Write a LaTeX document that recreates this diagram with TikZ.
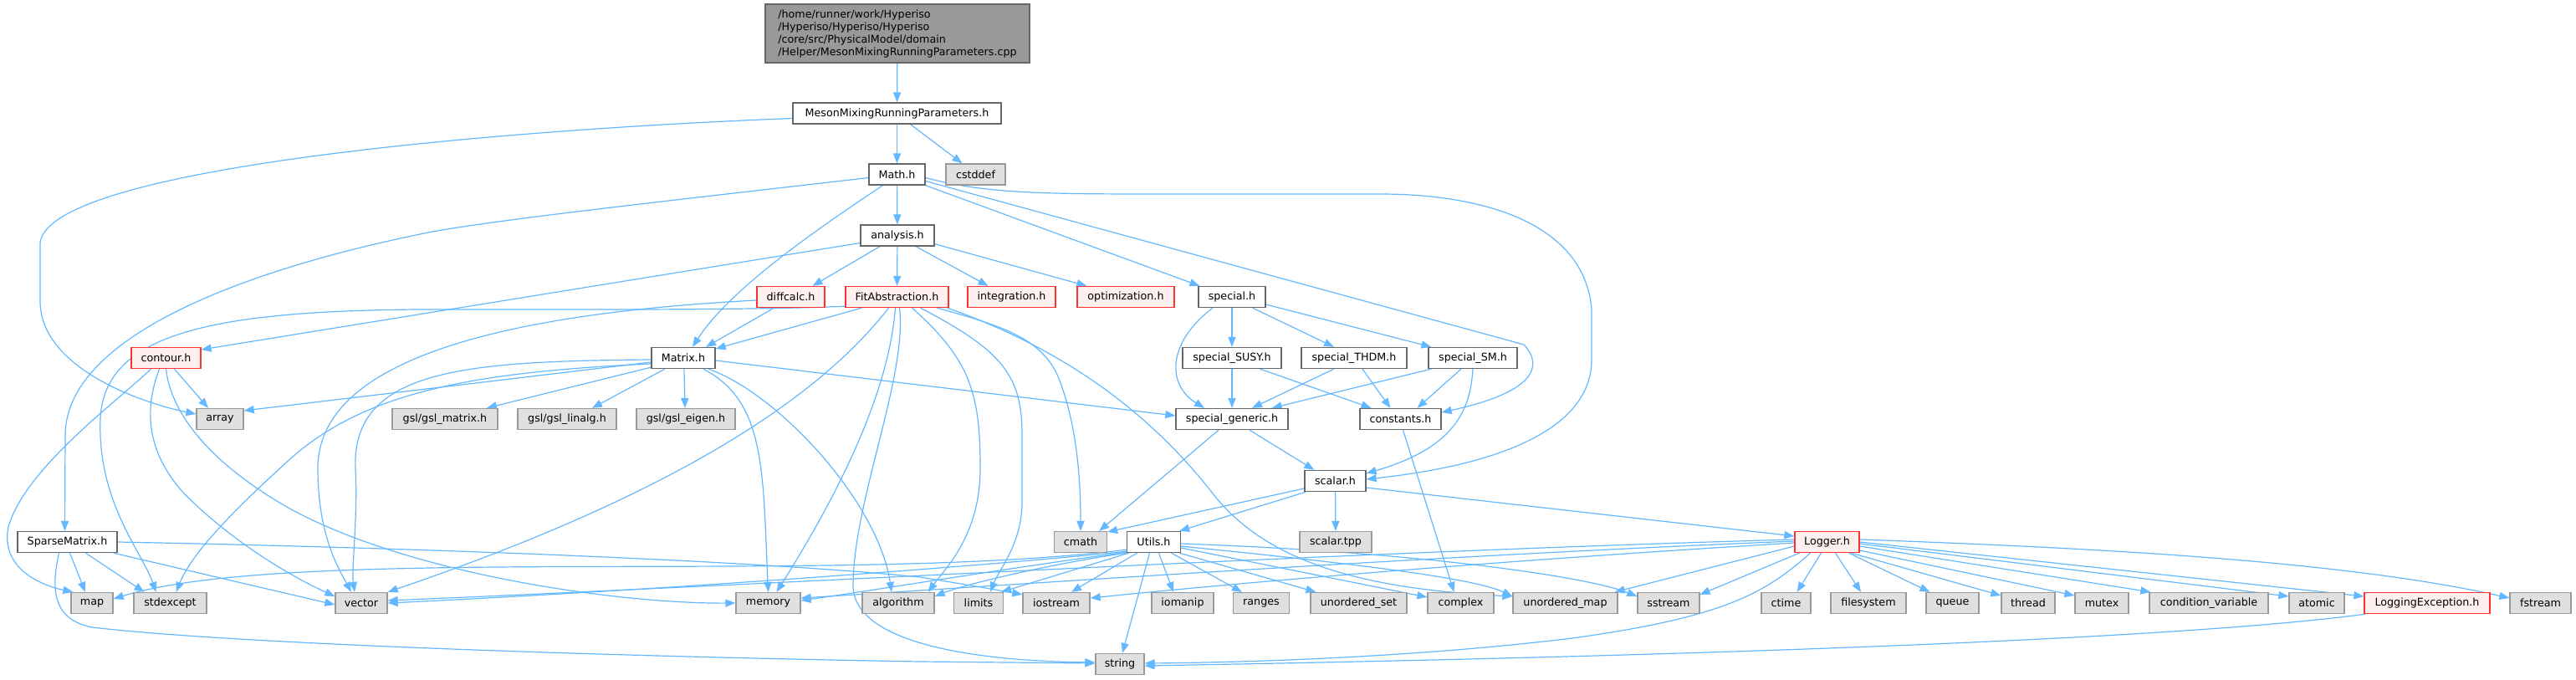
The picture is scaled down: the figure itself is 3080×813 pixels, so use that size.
\documentclass[tikz,border=0pt]{standalone}
\usepackage{fontspec}
\usetikzlibrary{arrows.meta,calc}
\newfontfamily\dvs{DejaVu Sans}
\definecolor{edgec}{HTML}{63B8FF}
\definecolor{nborder}{HTML}{666666}
\definecolor{lborder}{HTML}{999999}
\definecolor{lfill}{HTML}{E0E0E0}
\definecolor{tfill}{HTML}{FFF0F0}
\definecolor{tborder}{HTML}{FF3030}
\definecolor{rfill}{HTML}{999999}
\pgfdeclarelayer{bg}
\pgfsetlayers{bg,main}
\begin{document}
\begin{tikzpicture}[x=0.5pt,y=-0.5pt,
 nbox/.style={line width=0.65pt, inner sep=0pt, minimum height=12.5pt, font=\dvs\fontsize{6.35}{7.5}\selectfont},
 norm/.style={nbox, draw=nborder, fill=white},
 leaf/.style={nbox, draw=lborder, fill=lfill},
 trunc/.style={nbox, draw=tborder, fill=tfill},
 rootn/.style={nbox, draw=nborder, fill=rfill, align=left},
 edg/.style={draw=edgec, line width=0.6pt, -{Triangle[length=6pt,width=4.6pt]}},
]
\path[use as bounding box] (0,0) rectangle (3080,813);
% nodes
\node[rootn, minimum width=158pt, minimum height=35pt] (root) at (1073,40) {/home/runner/work/Hyperiso\\/Hyperiso/Hyperiso/Hyperiso\\/core/src/PhysicalModel/domain\\/Helper/MesonMixingRunningParameters.cpp};
\node[norm, minimum width=124.5pt] (mmrp) at (1072.5,135.5) {MesonMixingRunningParameters.h};
\node[norm, minimum width=33.5pt] (math) at (1072.5,208.5) {Math.h};
\node[leaf, minimum width=35.5pt] (cstddef) at (1166.5,208.5) {cstddef};
\node[norm, minimum width=44pt] (analysis) at (1073,281.5) {analysis.h};
\node[trunc, minimum width=40.5pt] (diffcalc) at (945.5,355) {diffcalc.h};
\node[trunc, minimum width=61.5pt] (fitab) at (1072.5,355) {FitAbstraction.h};
\node[trunc, minimum width=52.5pt] (integ) at (1209.5,355) {integration.h};
\node[trunc, minimum width=58pt] (optim) at (1346,355) {optimization.h};
\node[norm, minimum width=40pt] (special) at (1473,355) {special.h};
\node[trunc, minimum width=41.5pt] (contour) at (198.5,428) {contour.h};
\node[norm, minimum width=38pt] (matrix) at (817,428) {Matrix.h};
\node[norm, minimum width=59pt] (susy) at (1473,428) {special\_SUSY.h};
\node[norm, minimum width=63pt] (thdm) at (1619,428) {special\_THDM.h};
\node[norm, minimum width=53pt] (sm) at (1761,428) {special\_SM.h};
\node[leaf, minimum width=28pt] (array) at (263,501) {array};
\node[leaf, minimum width=63pt] (gslm) at (532,501) {gsl/gsl\_matrix.h};
\node[leaf, minimum width=59pt] (gsll) at (678,501) {gsl/gsl\_linalg.h};
\node[leaf, minimum width=59pt] (gsle) at (820,501) {gsl/gsl\_eigen.h};
\node[norm, minimum width=67pt] (sgen) at (1473,501) {special\_generic.h};
\node[norm, minimum width=48.5pt] (consts) at (1674.5,501) {constants.h};
\node[norm, minimum width=36.5pt] (scalar) at (1596.5,575) {scalar.h};
\node[norm, minimum width=59.5pt] (sparse) at (80.5,648) {SparseMatrix.h};
\node[leaf, minimum width=31.5pt] (cmath) at (1292,648) {cmath};
\node[norm, minimum width=32pt] (utils) at (1379.5,648) {Utils.h};
\node[leaf, minimum width=43pt] (stpp) at (1597,648) {scalar.tpp};
\node[trunc, minimum width=38.5pt] (logger) at (2184.5,648) {Logger.h};
\node[leaf, minimum width=25pt] (map) at (110,721) {map};
\node[leaf, minimum width=43.5pt] (stdexcept) at (203.5,721) {stdexcept};
\node[leaf, minimum width=31pt] (vector) at (432,721) {vector};
\node[leaf, minimum width=38.5pt] (memory) at (918.5,721) {memory};
\node[leaf, minimum width=43pt] (algorithm) at (1074,721) {algorithm};
\node[leaf, minimum width=29.5pt] (limits) at (1170,721) {limits};
\node[leaf, minimum width=40pt] (iostream) at (1263,721) {iostream};
\node[leaf, minimum width=37pt] (iomanip) at (1414,721) {iomanip};
\node[leaf, minimum width=33.5pt] (ranges) at (1508,721) {ranges};
\node[leaf, minimum width=57.5pt] (uset) at (1624.5,721) {unordered\_set};
\node[leaf, minimum width=39.5pt] (complex) at (1746.5,721) {complex};
\node[leaf, minimum width=62.5pt] (umap) at (1871.5,721) {unordered\_map};
\node[leaf, minimum width=37pt] (sstream) at (1995,721) {sstream};
\node[leaf, minimum width=29.5pt] (ctime) at (2135.5,721) {ctime};
\node[leaf, minimum width=45pt] (filesystem) at (2234,721) {filesystem};
\node[leaf, minimum width=31.5pt] (queue) at (2334.5,721) {queue};
\node[leaf, minimum width=32pt] (thread) at (2425,721) {thread};
\node[leaf, minimum width=32pt] (mutex) at (2513,721) {mutex};
\node[leaf, minimum width=71pt] (condvar) at (2641,721) {condition\_variable};
\node[leaf, minimum width=33pt] (atomic) at (2770,721) {atomic};
\node[trunc, minimum width=75pt] (logexc) at (2902,721) {LoggingException.h};
\node[leaf, minimum width=36.5pt] (fstream) at (3037.5,721) {fstream};
\node[leaf, minimum width=29pt] (string) at (1339,794) {string};
\begin{pgfonlayer}{bg}
% root / mmrp
\draw[edg] (root) -- (mmrp);
\draw[edg] (mmrp) -- (math);
\draw[edg] ($(mmrp.south)+(16,0)$) -- ($(cstddef.north)+(-16,0)$);
\draw[edg] ($(mmrp.west)+(0,6)$) .. controls (600,155) and (60,200) .. (48,290) -- (48,360) .. controls (48,440) and (170,482) .. ($(array.west)+(0,-6)$);
% math
\draw[edg] ($(math.west)+(0,4)$) .. controls (800,240) and (600,262) .. (517,277) .. controls (300,320) and (79,400) .. (78,520) -- ($(sparse.north)+(-3,0)$);
\draw[edg] (math) -- (analysis);
\draw[edg] ($(math.south)+(-17,0)$) .. controls (960,285) and (870,350) .. ($(matrix.north)+(11,0)$);
\draw[edg] (math.south east) -- ($(special.north west)+(2,0)$);
\draw[edg] ($(math.east)+(0,8)$) -- (1822,412) .. controls (1848,440) and (1830,470) .. ($(consts.east)+(0,-8)$);
\draw[edg] ($(math.east)+(0,4)$) .. controls (1180,232) and (1250,232) .. (1400,232) -- (1650,232) .. controls (1780,232) and (1895,270) .. (1903,370) -- (1903,430) .. controls (1903,510) and (1800,555) .. ($(scalar.east)+(0,-2)$);
% analysis
\draw[edg] ($(analysis.west)+(0,9)$) -- ($(contour.east)+(0,-10)$);
\draw[edg] ($(analysis.south)+(-21,0)$) -- ($(diffcalc.north)+(26,0)$);
\draw[edg] (analysis) -- (fitab);
\draw[edg] ($(analysis.south)+(22,0)$) -- ($(integ.north)+(-28,0)$);
\draw[edg] ($(analysis.south east)+(0,-3)$) -- ($(optim.north west)+(12,0)$);
% diffcalc
\draw[edg] ($(diffcalc.south)+(-20,0)$) -- ($(matrix.north)+(27,0)$);
\draw[edg] ($(diffcalc.west)+(0,4)$) .. controls (600,375) and (380,430) .. (380,560) .. controls (380,640) and (405,680) .. ($(vector.north)+(-12,0)$);
% FitAbstraction
\draw[edg] ($(fitab.south west)+(0,-2)$) .. controls (900,371) and (700,370) .. (500,370) .. controls (250,372) and (125,400) .. (120,500) .. controls (116,600) and (170,660) .. ($(stdexcept.north)+(-17,0)$);
\draw[edg] ($(fitab.south west)+(20,0)$) -- ($(matrix.east)+(0,-11)$);
\draw[edg] ($(fitab.south)+(-10,0)$) .. controls (960,500) and (750,610) .. (vector.north east);
\draw[edg] ($(fitab.south)+(-2,0)$) .. controls (1062,480) and (990,610) .. ($(memory.north)+(10,0)$);
\draw[edg] ($(fitab.south)+(3,0)$) .. controls (1085,450) and (1020,600) .. (1020,700) .. controls (1020,765) and (1150,790) .. ($(string.west)+(0,-2)$);
\draw[edg] ($(fitab.south)+(18,0)$) .. controls (1160,430) and (1172,470) .. (1172,560) .. controls (1172,640) and (1130,680) .. ($(algorithm.north east)+(-8,0)$);
\draw[edg] ($(fitab.south)+(28,0)$) .. controls (1200,420) and (1222,450) .. (1222,520) -- (1222,600) .. controls (1222,650) and (1195,680) .. ($(limits.north)+(14,0)$);
\draw[edg] ($(fitab.south)+(48,0)$) .. controls (1200,390) and (1245,405) .. (1265,450) .. controls (1285,500) and (1292,560) .. (cmath.north);
\draw[edg] ($(fitab.south east)+(-2,0)$) .. controls (1280,420) and (1380,500) .. (1450,590) .. controls (1520,680) and (1650,705) .. ($(umap.west)+(0,-8)$);
% special
\draw[edg] ($(special.south)+(-23,0)$) .. controls (1395,410) and (1395,460) .. ($(sgen.north)+(-33,0)$);
\draw[edg] (special) -- (susy);
\draw[edg] ($(special.south east)+(-16,0)$) -- ($(thdm.north)+(-24,0)$);
\draw[edg] ($(special.east)+(0,9)$) -- ($(sm.north west)+(4,0)$);
\draw[edg] (susy) -- (sgen);
\draw[edg] ($(susy.south east)+(-26,0)$) -- ($(consts.north)+(-35,0)$);
\draw[edg] ($(thdm.south)+(-24,0)$) -- ($(sgen.north)+(24,0)$);
\draw[edg] ($(thdm.south)+(10,0)$) -- ($(consts.north)+(-12,0)$);
\draw[edg] ($(sm.south west)+(4,0)$) -- ($(sgen.north east)+(-20,0)$);
\draw[edg] ($(sm.south)+(-14,0)$) -- ($(consts.north)+(20,0)$);
\draw[edg] (sm.south) .. controls (1758,490) and (1740,535) .. ($(scalar.east)+(0,-9)$);
\draw[edg] ($(consts.south)+(3,0)$) -- ($(complex.north)+(-8,0)$);
% special_generic
\draw[edg] ($(sgen.south)+(-16,0)$) -- ($(cmath.north east)+(-10,0)$);
\draw[edg] ($(sgen.south)+(21,0)$) -- ($(scalar.north west)+(12,0)$);
% scalar
\draw[edg] ($(scalar.west)+(0,9)$) -- ($(cmath.east)+(0,-12)$);
\draw[edg] ($(scalar.south west)+(2,0)$) -- ($(utils.north east)+(-2,0)$);
\draw[edg] (scalar) -- (stpp);
\draw[edg] ($(scalar.east)+(0,8)$) -- ($(logger.west)+(0,-7)$);
% Matrix
\draw[edg] ($(matrix.west)+(0,5)$) -- ($(array.east)+(0,-10)$);
\draw[edg] ($(matrix.west)+(0,2)$) .. controls (560,432) and (420,440) .. (425,560) .. controls (428,620) and (420,680) .. ($(vector.north)+(-8,0)$);
\draw[edg] ($(matrix.west)+(0,7)$) .. controls (560,445) and (430,470) .. (340,555) .. controls (280,610) and (230,660) .. ($(stdexcept.north)+(7,0)$);
\draw[edg] ($(matrix.south west)+(0,-2)$) -- ($(gslm.north)+(50,0)$);
\draw[edg] ($(matrix.south)+(-22,0)$) -- ($(gsll.north)+(30,0)$);
\draw[edg] ($(matrix.south)+(1,0)$) -- ($(gsle.north)+(-1,0)$);
\draw[edg] ($(matrix.south)+(24,0)$) .. controls (915,480) and (912,560) .. (memory.north);
\draw[edg] ($(matrix.south)+(30,0)$) .. controls (930,470) and (1050,600) .. ($(algorithm.north)+(-8,0)$);
\draw[edg] ($(matrix.east)+(0,3)$) -- ($(sgen.west)+(0,-4)$);
% contour
\draw[edg] ($(contour.south)+(10,0)$) -- ($(array.north)+(-14,0)$);
\draw[edg] ($(contour.south)+(-18,0)$) .. controls (140,480) and (30,560) .. (10,630) .. controls (0,680) and (50,700) .. ($(map.north west)+(3,0)$);
\draw[edg] ($(contour.south)+(-8,0)$) .. controls (172,490) and (175,540) .. (220,590) .. controls (280,650) and (350,690) .. ($(vector.west)+(0,-8)$);
\draw[edg] (contour.south) .. controls (205,500) and (260,560) .. (350,610) .. controls (500,690) and (750,722) .. (memory.west);
% SparseMatrix
\draw[edg] ($(sparse.south)+(-10,0)$) .. controls (62,700) and (60,740) .. (110,750) .. controls (300,772) and (800,786) .. (1100,791) -- ($(string.west)+(0,-1)$);
\draw[edg] ($(sparse.south)+(3,0)$) -- ($(map.north)+(-8,0)$);
\draw[edg] ($(sparse.south)+(22,0)$) -- ($(stdexcept.north)+(-31,0)$);
\draw[edg] ($(sparse.south east)+(-5,0)$) -- ($(vector.west)+(0,2)$);
\draw[edg] (sparse.east) .. controls (500,655) and (900,670) .. (1100,690) .. controls (1150,698) and (1190,705) .. ($(iostream.north west)+(0,3)$);
% Utils
\draw[edg] ($(utils.south west)+(0,-4)$) .. controls (1000,700) and (350,650) .. ($(map.east)+(0,-5)$);
\draw[edg] ($(utils.south west)+(0,-2)$) .. controls (1200,675) and (800,705) .. (vector.east);
\draw[edg] ($(utils.south west)+(0,-1)$) .. controls (1200,680) and (1050,705) .. ($(memory.east)+(0,-3)$);
\draw[edg] (utils.south west) .. controls (1250,675) and (1150,700) .. ($(algorithm.east)+(0,-8)$);
\draw[edg] ($(utils.south west)+(3,0)$) -- ($(limits.north east)+(-3,0)$);
\draw[edg] ($(utils.south)+(-20,0)$) -- ($(iostream.north)+(18,0)$);
\draw[edg] ($(utils.south)+(-5,0)$) -- ($(string.north)+(3,0)$);
\draw[edg] ($(utils.south)+(6,0)$) -- ($(iomanip.north)+(-11,0)$);
\draw[edg] ($(utils.south)+(21,0)$) -- ($(ranges.north)+(-23,0)$);
\draw[edg] ($(utils.south east)+(-2,0)$) -- ($(uset.north west)+(7,0)$);
\draw[edg] ($(utils.east)+(0,7)$) -- ($(complex.west)+(0,-7)$);
\draw[edg] ($(utils.east)+(0,5)$) .. controls (1600,672) and (1760,690) .. ($(umap.west)+(0,-8)$);
\draw[edg] ($(utils.east)+(0,2)$) .. controls (1700,660) and (1900,690) .. ($(sstream.west)+(0,-8)$);
% Logger
\draw[edg] ($(logger.south)+(-7,0)$) -- ($(ctime.north)+(13,0)$);
\draw[edg] ($(logger.south)+(10,0)$) -- ($(filesystem.north)+(-9,0)$);
\draw[edg] ($(logger.south)+(26,0)$) -- ($(queue.north)+(-27,0)$);
\draw[edg] ($(logger.south east)+(-10,0)$) -- ($(thread.west)+(0,-9)$);
\draw[edg] ($(logger.east)+(0,10)$) -- ($(mutex.west)+(0,-9)$);
\draw[edg] ($(logger.east)+(0,5)$) -- ($(condvar.north west)+(2,0)$);
\draw[edg] ($(logger.east)+(0,2)$) -- ($(atomic.west)+(0,-8)$);
\draw[edg] (logger.east) -- ($(logexc.west)+(0,-8)$);
\draw[edg] ($(logger.east)+(0,-3)$) .. controls (2500,655) and (2800,670) .. ($(fstream.west)+(0,-6)$);
\draw[edg] ($(logger.south west)+(6,0)$) -- ($(sstream.north east)+(0,3)$);
\draw[edg] ($(logger.west)+(0,5)$) -- ($(umap.north east)+(-4,0)$);
\draw[edg] ($(logger.west)+(0,1)$) .. controls (1800,670) and (1500,695) .. ($(iostream.east)+(0,-6)$);
\draw[edg] ($(logger.west)+(0,-1)$) .. controls (1700,665) and (1200,700) .. ($(memory.east)+(0,-6)$);
\draw[edg] ($(logger.west)+(0,-3)$) .. controls (1600,660) and (900,700) .. ($(vector.east)+(0,-3)$);
\draw[edg] ($(logger.south)+(-20,0)$) .. controls (2110,710) and (2060,738) .. (1880,763) .. controls (1700,785) and (1500,792) .. ($(string.east)+(0,-1)$);
\draw[edg] ($(logexc.south west)+(2,0)$) .. controls (2600,765) and (2000,785) .. ($(string.east)+(0,2)$);
\end{pgfonlayer}
\end{tikzpicture}
\end{document}
